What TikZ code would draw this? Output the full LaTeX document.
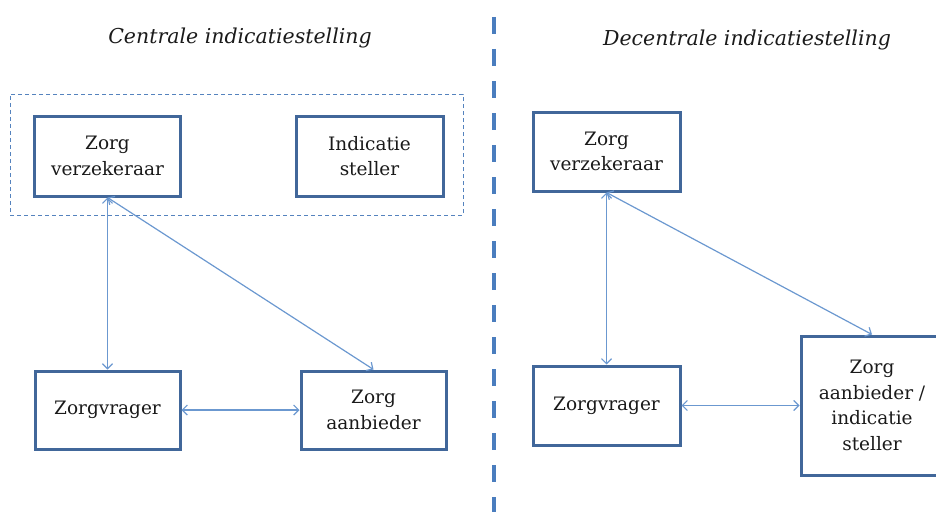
\documentclass[tikz,border=0pt]{standalone}
\usepackage{fontspec}
\setmainfont{DejaVu Serif}
\usetikzlibrary{arrows.meta}
\definecolor{boxblue}{HTML}{41679A}
\definecolor{arrblue}{HTML}{6B98D0}
\definecolor{dashblue}{HTML}{5583BE}
\definecolor{sepblue}{HTML}{4A7DBE}
\definecolor{txt}{HTML}{1A1A1A}
\tikzset{
  ent/.style={draw=boxblue, line width=3pt, fill=white, align=center,
    text=txt, font=\fontsize{18.5}{25.5}\selectfont, inner sep=0pt},
  conn/.style={draw=arrblue, line width=1.2pt,
    {Straight Barb[length=5pt,width=10pt]}-{Straight Barb[length=5pt,width=10pt]}},
  group/.style={draw=dashblue, line width=1pt, dash pattern=on 4pt off 3pt, inner sep=0pt},
  sep/.style={draw=sepblue, line width=4pt, dash pattern=on 17pt off 15pt},
  title/.style={font=\itshape\fontsize{20.5}{24}\selectfont, text=txt}
}
\begin{document}
\begin{tikzpicture}[x=1pt,y=-1pt]
\useasboundingbox (0,0) rectangle (936,511);
% titles
\node[title] (t1) at (240,38) {Centrale indicatiestelling};
\node[title] (t2) at (747,40) {Decentrale indicatiestelling};
% separator
\coordinate (s1) at (494,17);
\coordinate (s2) at (494,520);
\draw[sep] (s1) -- (s2);
% left group
\node[group, minimum width=453pt, minimum height=121pt] (grp) at (236.5,154.5) {};
\node[ent, minimum width=146pt, minimum height=80pt] (zv1) at (107.5,156) {Zorg\\verzekeraar};
\node[ent, minimum width=147pt, minimum height=80pt] (is) at (369.5,156) {Indicatie\\steller};
\node[ent, minimum width=145pt, minimum height=78pt] (zvr1) at (107.5,410) {Zorgvrager};
\node[ent, minimum width=145pt, minimum height=78pt] (za1) at (373.5,410) {Zorg\\aanbieder};
% right
\node[ent, minimum width=147pt, minimum height=79pt] (zv2) at (606.5,151.5) {Zorg\\verzekeraar};
\node[ent, minimum width=147pt, minimum height=79pt] (zvr2) at (606.5,405.5) {Zorgvrager};
\node[ent, minimum width=142pt, minimum height=139pt] (za2) at (872,405.5) {Zorg\\aanbieder /\\indicatie\\steller};
% connectors
\draw[conn] (zv1.south) -- (zvr1.north);
\draw[conn] (zv1.south) -- (za1.north);
\draw[conn] (zvr1.east) -- (za1.west);
\draw[conn] (zv2.south) -- (zvr2.north);
\draw[conn] (zv2.south) -- (za2.north);
\draw[conn] (zvr2.east) -- (za2.west);
\end{tikzpicture}
\end{document}
